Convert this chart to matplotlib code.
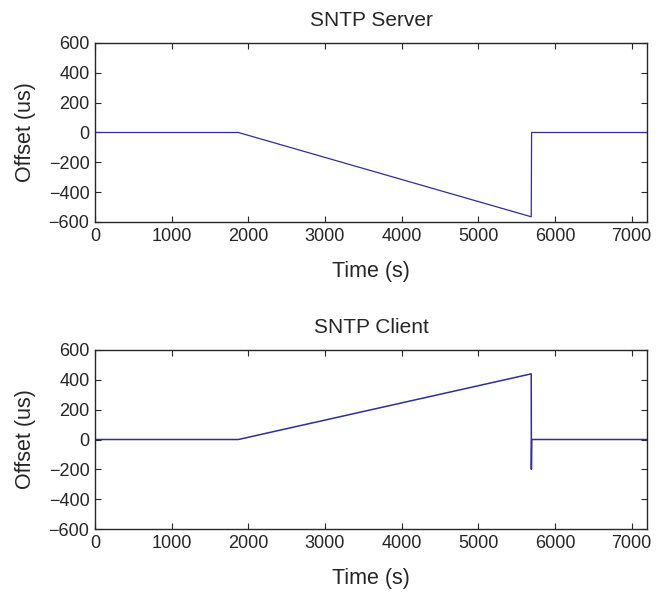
import matplotlib
matplotlib.use("Agg")
import matplotlib.pyplot as plt

# Data
server_t = [0, 1870, 5690, 5695, 7200]
server_v = [0, 0, -565, 0, 0]

client_t = [0, 1870, 5690, 5692, 5696, 7200]
client_v = [0, 0, 440, -200, 0, 0]

titles = ["SNTP Server", "SNTP Client"]
xticks = [0, 1000, 2000, 3000, 4000, 5000, 6000, 7000]
yticks = [-600, -400, -200, 0, 200, 400, 600]

plt.rcParams['font.family'] = ['Liberation Sans', 'DejaVu Sans']
txt = '#262626'
line_color = '#2e2e96'

fig = plt.figure(figsize=(6.67, 5.92), dpi=100)
ax1 = fig.add_axes([0.1424, 0.625, 0.8276, 0.3024])
ax2 = fig.add_axes([0.1424, 0.1064, 0.8276, 0.3024])

for i, (ax, t, v, title) in enumerate([(ax1, server_t, server_v, titles[0]), (ax2, client_t, client_v, titles[1])]):
    ax.plot(t, v, color=line_color, lw=0.9 if i == 0 else 1.1)
    ax.set_xlim(0, 7200)
    ax.set_ylim(-600, 600)
    ax.set_xticks(xticks)
    ax.set_yticks(yticks)
    ax.set_yticklabels([str(y).replace('-', '\u2212') for y in yticks])
    ax.tick_params(direction='in', top=True, right=True, labelsize=13, colors=txt,
                   length=4, width=0.8, pad=4)
    for s in ax.spines.values():
        s.set_color(txt)
        s.set_linewidth(1.0)
    ax.set_xlabel('Time (s)', fontsize=15.5, color=txt, labelpad=12)
    ax.set_ylabel('Offset (us)', fontsize=15.5, color=txt, labelpad=9)
    ax.set_title(title, fontsize=15, color=txt, pad=12)

fig.savefig('out.png', dpi=100)
